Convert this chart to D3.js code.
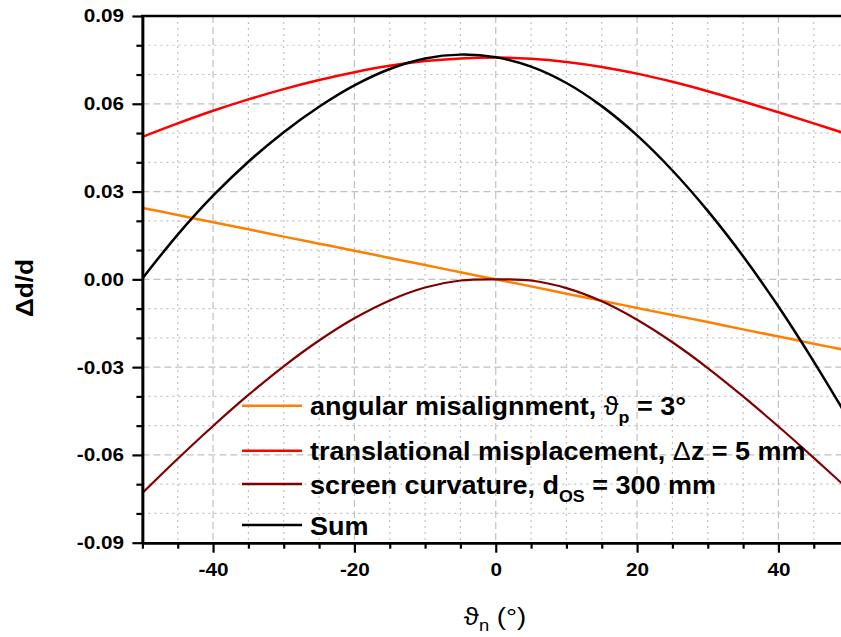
<!DOCTYPE html>
<html><head><meta charset="utf-8">
<script src="https://cdn.jsdelivr.net/npm/d3@7"></script>
<style>
body{margin:0;background:#fff}
svg{display:block}
text{font-family:"Liberation Sans",Arial,Helvetica,sans-serif}
</style>
</head><body>
<svg id="chart" width="841" height="637"></svg>
<script>
// ---- data ----
const theta = [-50,-45,-40,-35,-30,-25,-20,-15,-10,-5,0,5,10,15,20,25,30,35,40,45,50];
const angular = [0.0244,0.0220,0.0195,0.0171,0.0146,0.0122,0.0098,0.0073,0.0049,0.0024,0,
                 -0.0024,-0.0049,-0.0073,-0.0098,-0.0122,-0.0146,-0.0171,-0.0195,-0.0220,-0.0244];
const translational = [0.0487,0.0533,0.0576,0.0615,0.0650,0.0681,0.0708,0.0730,0.0746,0.0755,0.0758,
                       0.0754,0.0743,0.0726,0.0703,0.0675,0.0643,0.0608,0.0571,0.0533,0.0494];
const curvature = [-0.0730,-0.0613,-0.0501,-0.0395,-0.0297,-0.0209,-0.0133,-0.0072,-0.0028,-0.0004,0,
                   -0.0004,-0.0030,-0.0075,-0.0138,-0.0215,-0.0303,-0.0400,-0.0503,-0.0610,-0.0720];
const sum = [0.0003,0.0153,0.0286,0.0402,0.0503,0.0590,0.0663,0.0719,0.0755,0.0768,0.0759,
             0.0727,0.0671,0.0592,0.0492,0.0372,0.0234,0.0079,-0.0093,-0.0281,-0.0481];
const xTicks = [-40,-20,0,20,40];
const xMinorTicks = [-50,-45,-35,-30,-25,-15,-10,-5,5,10,15,25,30,35,45,50];
const yTicks = [-0.09,-0.06,-0.03,0,0.03,0.06,0.09];
const yMinorTicks = [-0.08,-0.07,-0.05,-0.04,-0.02,-0.01,0.01,0.02,0.04,0.05,0.07,0.08];
const seriesColors = ["#FF8000","#FF0000","#800000","#000000"];
const seriesValues = [angular, translational, curvature, sum];
const legendLabels = [
  [["angular misalignment, ","b"],["ϑ","n"],["p","sub"],[" = 3°","b"]],
  [["translational misplacement, ","b"],["Δ","n"],["z = 5 mm","b"]],
  [["screen curvature, d","b"],["OS","sub"],[" = 300 mm","b"]],
  [["Sum","b"]]
];

// ---- layout ----
const svg = d3.select("#chart");
const L = 142.4, R = 849.1, T = 16, B = 542.7;
const x = d3.scaleLinear().domain([-50,50]).range([L,R]);
const y = d3.scaleLinear().domain([-0.09,0.09]).range([B,T]);
const SX = 1.12; // horizontal text stretch of the reference font

// grid
const grid = svg.append("g").attr("stroke","#c0c0c0").attr("stroke-width",1.2);
grid.selectAll(".gxm").data(xMinorTicks).join("line")
  .attr("x1",d=>x(d)).attr("x2",d=>x(d)).attr("y1",T).attr("y2",B)
  .attr("stroke-dasharray","2,4");
grid.selectAll(".gym").data(yMinorTicks).join("line")
  .attr("x1",L).attr("x2",R).attr("y1",d=>y(d)).attr("y2",d=>y(d))
  .attr("stroke-dasharray","2,4");
grid.selectAll(".gx").data(xTicks).join("line")
  .attr("x1",d=>x(d)).attr("x2",d=>x(d)).attr("y1",T).attr("y2",B)
  .attr("stroke-dasharray","7,4");
grid.selectAll(".gy").data(yTicks.filter(d=>d>-0.09&&d<0.09)).join("line")
  .attr("x1",L).attr("x2",R).attr("y1",d=>y(d)).attr("y2",d=>y(d))
  .attr("stroke-dasharray","7,4");

// curves
svg.append("clipPath").attr("id","clip").append("rect")
  .attr("x",L).attr("y",T-2).attr("width",R-L).attr("height",B-T+4);
const line = d3.line().x((d,i)=>x(theta[i])).y(d=>y(d)).curve(d3.curveCatmullRom);
const widths = [2.5,2.5,2.2,2.5];
svg.append("g").attr("clip-path","url(#clip)")
  .selectAll("path").data(seriesValues).join("path")
  .attr("d",d=>line(d)).attr("fill","none")
  .attr("stroke",(d,i)=>seriesColors[i]).attr("stroke-width",(d,i)=>widths[i]);

// axes
const fmtY = d => (Math.abs(d)<1e-9 ? 0 : d).toFixed(2);
const fmtX = d => String(d);
function styleAxis(g){
  g.selectAll("path.domain").attr("stroke","#000").attr("stroke-width",2.6);
  g.selectAll(".tick line").attr("stroke","#000").attr("stroke-width",2.2);
  g.selectAll("text").attr("font-size",18.5).attr("font-weight","bold").attr("fill","#000")
   .attr("font-family",'"Liberation Sans",Arial,sans-serif')
   .attr("transform",`scale(${SX},1)`);
}
svg.append("g").attr("transform",`translate(${L},0)`)
  .call(d3.axisLeft(y).tickValues(yMinorTicks).tickSize(6).tickFormat("").tickSizeOuter(0))
  .call(styleAxis);
const yAx = svg.append("g").attr("transform",`translate(${L},0)`)
  .call(d3.axisLeft(y).tickValues(yTicks).tickSize(10).tickPadding(8).tickFormat(fmtY).tickSizeOuter(0))
  .call(styleAxis);
yAx.selectAll(".tick text").attr("x",-18.4/SX);
svg.append("g").attr("transform",`translate(0,${B})`)
  .call(d3.axisBottom(x).tickValues(xMinorTicks).tickSize(6).tickFormat("").tickSizeOuter(0))
  .call(styleAxis);
svg.append("g").attr("transform",`translate(0,${B})`)
  .call(d3.axisBottom(x).tickValues(xTicks).tickSize(10).tickPadding(10).tickFormat(fmtX).tickSizeOuter(0))
  .call(styleAxis);
// top frame line
svg.append("line").attr("x1",L-1.3).attr("x2",R).attr("y1",T).attr("y2",T)
  .attr("stroke","#000").attr("stroke-width",2.6);

// axis titles
svg.append("text").attr("transform","translate(33,288) rotate(-90) scale(1.14,1)")
  .attr("text-anchor","middle").attr("font-size",23).attr("font-weight","bold").text("Δd/d");
const xt = svg.append("text").attr("transform","translate(495,625) scale(1.15,1)")
  .attr("text-anchor","middle").attr("font-size",24);
xt.append("tspan").text("ϑ");
xt.append("tspan").attr("font-size",16).attr("dy",6).text("n");
xt.append("tspan").attr("dy",-6).text(" (°)");

// legend
const legY = [405.7,450.7,484,525];
const leg = svg.append("g");
legendLabels.forEach((parts,i)=>{
  leg.append("line").attr("x1",242).attr("x2",302).attr("y1",legY[i]).attr("y2",legY[i])
    .attr("stroke",seriesColors[i]).attr("stroke-width",2.5);
  const t = leg.append("text").attr("transform",`translate(310,${legY[i]+9.5}) scale(1.08,1)`)
    .attr("font-size",25);
  let shift = 0;
  parts.forEach(([s,k])=>{
    const ts = t.append("tspan").text(s);
    if(k==="sub"){ ts.attr("font-size",16.5).attr("font-weight","bold").attr("dy",8-shift); shift=8; }
    else { ts.attr("dy",-shift); shift=0; ts.attr("font-weight", k==="b"?"bold":"normal"); }
  });
});
</script>
</body></html>
